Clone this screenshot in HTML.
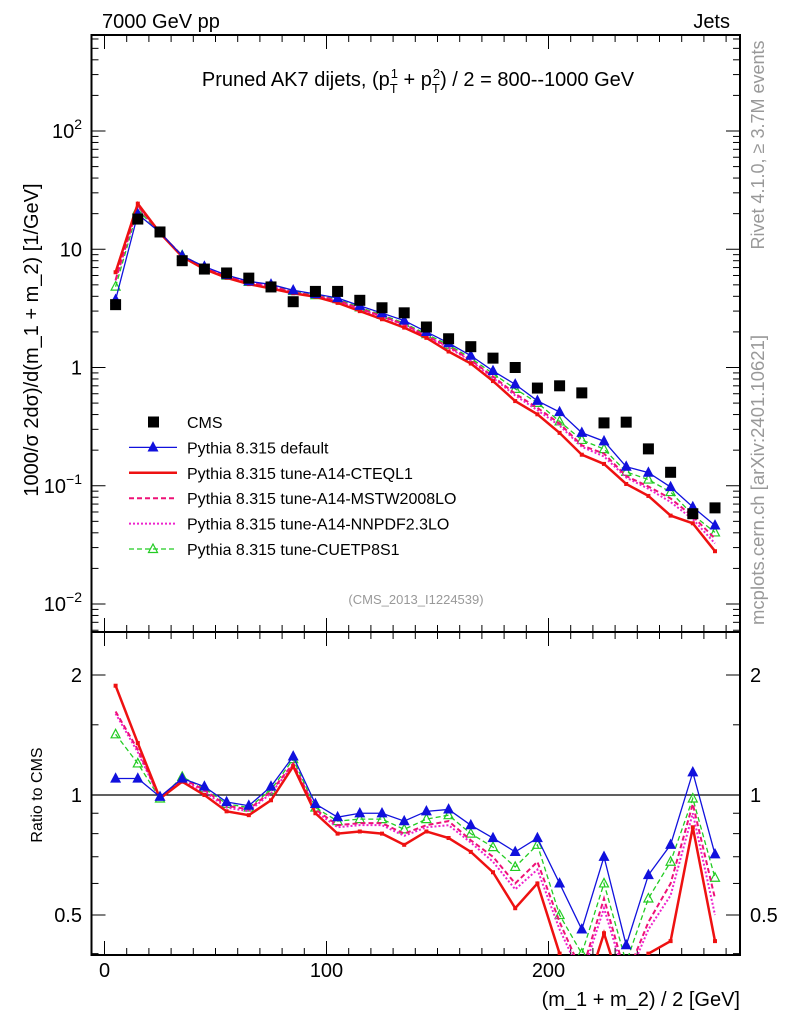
<!DOCTYPE html>
<html><head><meta charset="utf-8"><style>
body{margin:0;background:#fff}
svg{display:block;font-family:"Liberation Sans",sans-serif}
</style></head><body>
<svg id="c" width="786" height="1024" viewBox="0 0 786 1024" xmlns="http://www.w3.org/2000/svg">
<g id="g"></g>
<text x="102" y="28" font-size="20">7000 GeV pp</text>
<text x="730" y="28" font-size="20" text-anchor="end">Jets</text>
<text x="418" y="86" font-size="20" text-anchor="middle">Pruned AK7 dijets, (p<tspan font-size="13" dy="7">T</tspan><tspan font-size="13" dx="-7" dy="-15">1</tspan><tspan dy="8"> + p</tspan><tspan font-size="13" dy="7">T</tspan><tspan font-size="13" dx="-7" dy="-15">2</tspan><tspan dy="8">) / 2 = 800--1000 GeV</tspan></text>
<text x="416" y="604" font-size="13" fill="#999" text-anchor="middle">(CMS_2013_I1224539)</text>
<text transform="translate(38,340) rotate(-90)" font-size="20" text-anchor="middle">1000/σ   2dσ)/d(m_1 + m_2) [1/GeV]</text>
<text transform="translate(42,795) rotate(-90)" font-size="16" text-anchor="middle">Ratio to CMS</text>
<text x="740" y="1006" font-size="20" text-anchor="end">(m_1 + m_2) / 2 [GeV]</text>
<text transform="translate(764,145) rotate(-90)" font-size="18" fill="#999" text-anchor="middle">Rivet 4.1.0, ≥ 3.7M events</text>
<text transform="translate(764,480) rotate(-90)" font-size="18.5" fill="#999" text-anchor="middle">mcplots.cern.ch [arXiv:2401.10621]</text>
</svg>
<script>
const centers=[5,15,25,35,45,55,65,75,85,95,105,115,125,135,145,155,165,175,185,195,205,215,225,235,245,255,265,275];
const cms=[3.4,18,14,8,6.8,6.3,5.7,4.8,3.6,4.4,4.4,3.7,3.2,2.9,2.2,1.75,1.5,1.2,1.0,0.67,0.70,0.61,0.34,0.345,0.205,0.13,0.058,0.065];
const rDefault=[1.1,1.1,0.99,1.1,1.05,0.96,0.94,1.05,1.25,0.95,0.88,0.9,0.9,0.86,0.91,0.92,0.84,0.78,0.72,0.78,0.6,0.46,0.7,0.42,0.63,0.75,1.14,0.71];
const rCTEQ=[1.88,1.35,0.98,1.08,1.0,0.91,0.89,0.97,1.18,0.9,0.8,0.81,0.8,0.75,0.81,0.78,0.72,0.64,0.52,0.6,0.4,0.3,0.45,0.3,0.4,0.43,0.83,0.43];
const rMSTW=[1.62,1.3,0.98,1.1,1.03,0.94,0.92,1.02,1.2,0.92,0.84,0.85,0.85,0.8,0.84,0.86,0.77,0.7,0.6,0.68,0.48,0.36,0.55,0.35,0.48,0.6,0.95,0.55];
const rNNPDF=[1.6,1.28,0.98,1.09,1.02,0.93,0.91,1.01,1.19,0.91,0.83,0.84,0.84,0.79,0.83,0.84,0.76,0.68,0.58,0.65,0.46,0.35,0.52,0.34,0.46,0.56,0.9,0.5];
const rCUETP=[1.42,1.2,0.98,1.11,1.04,0.95,0.93,1.03,1.23,0.93,0.86,0.87,0.87,0.82,0.87,0.89,0.8,0.74,0.66,0.75,0.5,0.4,0.6,0.38,0.55,0.68,0.98,0.62];
const xTicks=[0,100,200];
const yTicks=[-2,-1,0,1,2];
const rTicks=[0.5,1,2];

const NS="http://www.w3.org/2000/svg";
const g=document.getElementById('g');
const L=91.5,R=740,T=35,MB=632,RB=955;
const X=v=>104.5+v*2.22;
const Y=v=>131+(2-Math.log10(v))*118.25;
const YR=v=>795-120*Math.log2(v);
function el(t,a,p){const e=document.createElementNS(NS,t);for(const k in a)e.setAttribute(k,a[k]);(p||g).appendChild(e);return e;}

const defs=el('defs',{});
const c1=el('clipPath',{id:'cm'},defs);el('rect',{x:L,y:T,width:R-L,height:MB-T},c1);
const c2=el('clipPath',{id:'cr'},defs);el('rect',{x:L,y:MB,width:R-L,height:RB-MB},c2);

const f1=el('rect',{x:L,y:T,width:R-L,height:MB-T,fill:'none',stroke:'#000','stroke-width':2});


const f2=el('rect',{x:L,y:MB,width:R-L,height:RB-MB,fill:'none',stroke:'#000','stroke-width':2});



for(let v=0;v<=280;v+=10){const big=v%100===0;const h=big?14:7;
 el('line',{x1:X(v),x2:X(v),y1:T,y2:T+h,stroke:'#000'});
 el('line',{x1:X(v),x2:X(v),y1:MB,y2:MB-h,stroke:'#000'});
 el('line',{x1:X(v),x2:X(v),y1:MB,y2:MB+h,stroke:'#000'});
 el('line',{x1:X(v),x2:X(v),y1:RB,y2:RB-h,stroke:'#000'});}
xTicks.forEach(v=>{const t=el('text',{x:X(v),y:977,'font-size':20,'text-anchor':'middle'});t.textContent=v;
 
 });

for(let d=-3;d<=2;d++){for(let m=1;m<10;m++){const v=m*Math.pow(10,d);const y=Y(v);if(y<T||y>MB)continue;const h=m===1?14:7;
 el('line',{x1:L,x2:L+h,y1:y,y2:y,stroke:'#000'});el('line',{x1:R,x2:R-h,y1:y,y2:y,stroke:'#000'});}}
yTicks.forEach(d=>{const y=Y(Math.pow(10,d));const t=el('text',{x:82,y:y+7,'font-size':20,'text-anchor':'end'});
 if(d===0)t.textContent='1';else if(d===1)t.textContent='10';else{t.textContent='10';const s=el('tspan',{'font-size':14,dy:-9},t);s.textContent=String(d).replace('-','−');}
 
 });

[0.4,0.5,0.6,0.7,0.8,0.9,1,1.5,2].forEach(v=>{const y=YR(v);const h=(v===0.5||v===1||v===2)?14:7;
 el('line',{x1:L,x2:L+h,y1:y,y2:y,stroke:'#000'});el('line',{x1:R,x2:R-h,y1:y,y2:y,stroke:'#000'});});
rTicks.forEach(v=>{const y=YR(v);[[82,'end'],[750,'start']].forEach(([x,a])=>{const t=el('text',{x:x,y:y+7,'font-size':20,'text-anchor':a});t.textContent=v;
 
 });});
el('line',{x1:L,x2:R,y1:YR(1),y2:YR(1),stroke:'#000','stroke-width':1.2});

const series=[
 {r:rCUETP,c:'#22cc22',w:1.3,d:'5,3',m:'open',n:'cuetp8s1'},
 {r:rNNPDF,c:'#ee22cc',w:2,d:'2,2',m:null,n:'a14-nnpdf'},
 {r:rMSTW,c:'#ee1177',w:2,d:'5,3',m:null,n:'a14-mstw'},
 {r:rCTEQ,c:'#ee1111',w:2.5,d:null,m:'tick',n:'a14-cteql1'},
 {r:rDefault,c:'#1111dd',w:1.3,d:null,m:'fill',n:'default'}];
function tri(x,y,c,open,p){return el('polygon',{points:`${x},${y-5} ${x-4.5},${y+3.5} ${x+4.5},${y+3.5}`,fill:open?'none':c,stroke:c,'stroke-width':1.2},p);}
series.forEach(s=>{
 [[v=>Y(v),'cm','main'],[v=>YR(v),'cr','ratio']].forEach(([fy,clip,pn])=>{
  const grp=el('g',{'clip-path':`url(#${clip})`});
  
  
  const pts=centers.map((c,i)=>[X(c),pn==='main'?fy(cms[i]*s.r[i]):fy(s.r[i])]);
  const a={points:pts.map(p=>p.join(',')).join(' '),fill:'none',stroke:s.c,'stroke-width':s.w};if(s.d)a['stroke-dasharray']=s.d;
  el('polyline',a,grp);
  pts.forEach(p=>{if(s.m==='fill')tri(p[0],p[1],s.c,false,grp);else if(s.m==='open')tri(p[0],p[1],s.c,true,grp);
   else if(s.m==='tick')el('rect',{x:p[0]-2,y:p[1]-2,width:4,height:4,fill:s.c},grp);});
 });
});
const cg=el('g',{'clip-path':'url(#cm)'});


centers.forEach((c,i)=>{const r=el('rect',{x:X(c)-5.5,y:Y(cms[i])-5.5,width:11,height:11,fill:'#000'},cg);
 
 });

const leg=[['CMS',null],['Pythia 8.315 default',series[4]],['Pythia 8.315 tune-A14-CTEQL1',series[3]],['Pythia 8.315 tune-A14-MSTW2008LO',series[2]],['Pythia 8.315 tune-A14-NNPDF2.3LO',series[1]],['Pythia 8.315 tune-CUETP8S1',series[0]]];
leg.forEach((e,i)=>{const y=422+i*25.4;const lg=el('g',{});
 
 
 if(!e[1])el('rect',{x:148,y:y-5.5,width:11,height:11,fill:'#000'},lg);
 else{const s=e[1];const a={x1:129,x2:177,y1:y,y2:y,stroke:s.c,'stroke-width':s.w};if(s.d)a['stroke-dasharray']=s.d;el('line',a,lg);
  if(s.m==='fill')tri(153,y,s.c,false,lg);if(s.m==='open')tri(153,y,s.c,true,lg);}
 const t=el('text',{x:187,y:y+6,'font-size':16},lg);t.textContent=e[0];});
</script>
</body></html>
